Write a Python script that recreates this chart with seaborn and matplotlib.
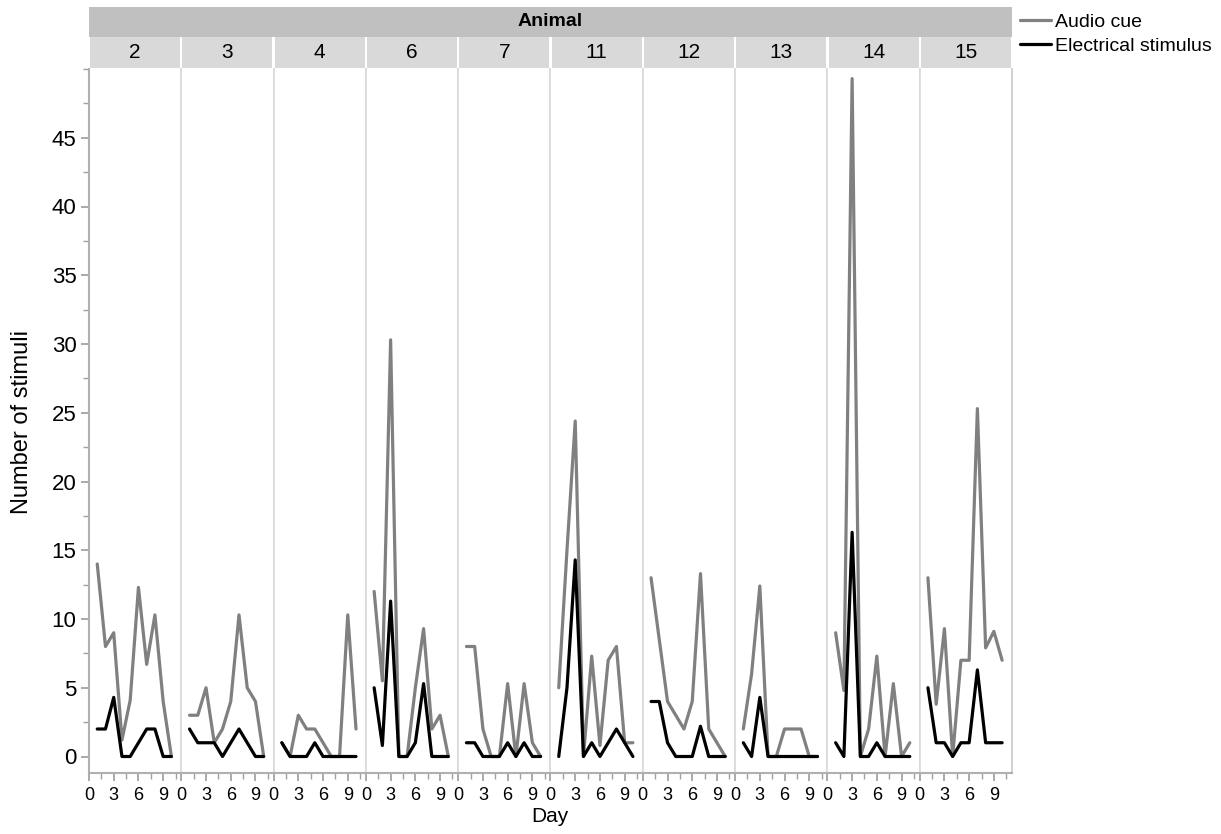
import matplotlib
matplotlib.use("Agg")
import matplotlib.pyplot as plt
from matplotlib.patches import Rectangle
from matplotlib.lines import Line2D
from matplotlib.ticker import MultipleLocator
import seaborn as sns
import pandas as pd

# data
animals = [2, 3, 4, 6, 7, 11, 12, 13, 14, 15]
days = list(range(1, 11))

audio_cue = [
    [14, 8, 9, 1.2, 4.1, 12.3, 6.7, 10.3, 4, 0],      # 2
    [3, 3, 5, 1, 2, 4, 10.3, 5, 4, 0],                # 3
    [1, 0, 3, 2, 2, 1, 0, 0, 10.3, 2],                # 4
    [12, 5.5, 30.3, 0, 0, 5, 9.3, 2, 3, 0],           # 6
    [8, 8, 2, 0, 0, 5.3, 0, 5.3, 1, 0],               # 7
    [5, 15, 24.4, 0, 7.3, 0.8, 7, 8, 1, 1],           # 11
    [13, 8.5, 4, 3, 2, 4, 13.3, 2, 1, 0],             # 12
    [2, 6, 12.4, 0, 0, 2, 2, 2, 0, 0],                # 13
    [9, 4.8, 49.3, 0, 2, 7.3, 0, 5.3, 0, 1],          # 14
    [13, 3.8, 9.3, 0, 7, 7, 25.3, 7.9, 9.1, 7],       # 15
]
electrical_stimulus = [
    [2, 2, 4.3, 0, 0, 1, 2, 2, 0, 0],
    [2, 1, 1, 1, 0, 1, 2, 1, 0, 0],
    [1, 0, 0, 0, 1, 0, 0, 0, 0, 0],
    [5, 0.8, 11.3, 0, 0, 1, 5.3, 0, 0, 0],
    [1, 1, 0, 0, 0, 1, 0, 1, 0, 0],
    [0, 5, 14.3, 0, 1, 0, 1, 2, 1, 0],
    [4, 4, 1, 0, 0, 0, 2.2, 0, 0, 0],
    [1, 0, 4.3, 0, 0, 0, 0, 0, 0, 0],
    [1, 0, 16.3, 0, 0, 1, 0, 0, 0, 0],
    [5, 1, 1, 0, 1, 1, 6.3, 1, 1, 1],
]
series_names = ["Audio cue", "Electrical stimulus"]
colors = {"Audio cue": "#808080", "Electrical stimulus": "#000000"}

rows = []
for name, series in zip(series_names, [audio_cue, electrical_stimulus]):
    for animal, vals in zip(animals, series):
        for d, v in zip(days, vals):
            rows.append({"Animal": animal, "Day": d, "Stimuli": v, "Stimulus": name})
df = pd.DataFrame(rows)

sns.set_theme(style="white")
plt.rcParams['font.family'] = ['Liberation Sans', 'DejaVu Sans']
plt.rcParams['text.color'] = 'black'
plt.rcParams['xtick.labelcolor'] = 'black'
plt.rcParams['ytick.labelcolor'] = 'black'

W, H = 1221, 834
g = sns.relplot(data=df, x="Day", y="Stimuli", hue="Stimulus", hue_order=series_names,
                col="Animal", col_order=animals, kind="line", palette=colors,
                linewidth=2.3, legend=False, height=7, aspect=0.13,
                facet_kws=dict(despine=False, sharey=True, sharex=True))
fig = g.figure
fig.set_size_inches(W / 100, H / 100)
left, right, top, bottom = 89 / W, 1012 / W, 1 - 69 / H, 1 - 773 / H
fig.subplots_adjust(left=left, right=right, top=top, bottom=bottom, wspace=0)

strip_h = 30 / 704
for i, (ax, animal) in enumerate(zip(g.axes.flat, animals)):
    ax.set_title("")
    ax.set_xlabel("")
    ax.set_ylabel("")
    ax.set_xlim(0, 11.2)
    ax.set_ylim(-1.2, 50)
    ax.set_xticks([0, 3, 6, 9])
    ax.xaxis.set_minor_locator(MultipleLocator(1.5))
    ax.tick_params(axis="x", which="both", bottom=True, direction="out", color="#a0a0a0",
                   labelsize=13, pad=4)
    ax.tick_params(axis="x", which="major", length=6)
    ax.tick_params(axis="x", which="minor", length=4)
    for side in ["top", "left", "right"]:
        ax.spines[side].set_color("#d9d9d9")
        ax.spines[side].set_linewidth(1.2)
    ax.spines["top"].set_visible(False)
    ax.spines["bottom"].set_color("#b0b0b0")
    ax.spines["bottom"].set_linewidth(1.5)
    if i == 0:
        ax.set_yticks(range(0, 50, 5))
        ax.yaxis.set_minor_locator(MultipleLocator(2.5))
        ax.tick_params(axis="y", which="both", left=True, direction="out", color="#a0a0a0",
                       labelsize=16, pad=3)
        ax.tick_params(axis="y", which="major", length=6)
        ax.tick_params(axis="y", which="minor", length=4)
        ax.spines["left"].set_color("#b0b0b0")
        ax.spines["left"].set_linewidth(1.5)
    else:
        ax.tick_params(axis="y", which="both", left=False)
    if i == len(animals) - 1:
        ax.spines["right"].set_color("#c8c8c8")
    # number strip above each panel
    ax.add_patch(Rectangle((0.012, 1 + 1.5 / 704), 0.976, strip_h, transform=ax.transAxes,
                           facecolor="#d9d9d9", edgecolor="none", clip_on=False))
    ax.text(0.5, 1 + 1.5 / 704 + strip_h / 2, str(animal), transform=ax.transAxes,
            ha="center", va="center", fontsize=15, color="black")

# "Animal" header band
fig.patches.append(Rectangle((left, 1 - 37 / H), right - left, 30 / H, transform=fig.transFigure,
                             facecolor="#c0c0c0", edgecolor="none"))
fig.text((left + right) / 2, 1 - 22 / H, "Animal", ha="center", va="center",
         fontsize=14, fontweight="bold")

fig.text(22 / W, 1 - 422 / H, "Number of stimuli", rotation=90, ha="center", va="center", fontsize=17)
fig.text(550 / W, 1 - 817 / H, "Day", ha="center", va="center", fontsize=15)

handles = [Line2D([], [], color=colors[n], lw=2.3) for n in series_names]
fig.legend(handles, series_names, loc="upper left", bbox_to_anchor=(1020 / W, 1 - 13 / H),
           frameon=False, fontsize=14, handlelength=1.6, handletextpad=0.2,
           labelspacing=0.35, borderaxespad=0, borderpad=0)

fig.savefig("out.png", dpi=100)
